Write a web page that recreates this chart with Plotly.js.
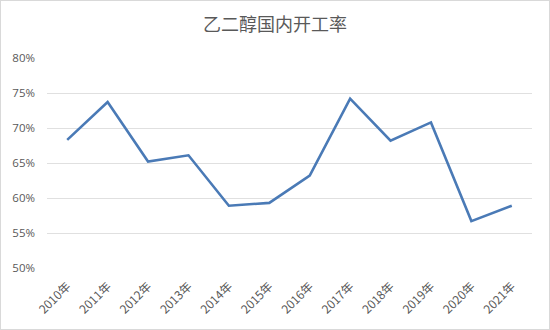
<!DOCTYPE html>
<html>
<head>
<meta charset="utf-8">
<script src="https://cdn.plot.ly/plotly-3.0.1.min.js"></script>
<style>
html,body{margin:0;padding:0;background:#fff;}
#wrap{position:relative;width:550px;height:330px;}
#chart{width:550px;height:330px;}
#border{position:absolute;left:0;top:0;width:548px;height:328px;border:1px solid #d9d9d9;pointer-events:none;}
</style>
</head>
<body>
<div id="wrap"><div id="chart"></div><div id="border"></div></div>
<script>
var years = ["2010年","2011年","2012年","2013年","2014年","2015年","2016年","2017年","2018年","2019年","2020年","2021年"];
var rates = [0.683, 0.737, 0.652, 0.661, 0.589, 0.593, 0.632, 0.742, 0.682, 0.708, 0.567, 0.589];
var yTicks = [0.5, 0.55, 0.6, 0.65, 0.7, 0.75, 0.8];

var trace = {
  x: years, y: rates, type: 'scatter', mode: 'lines',
  line: {color: '#4a7ab6', width: 2.6}, hoverinfo: 'none'
};
var layout = {
  width: 550, height: 330,
  margin: {l: 47, r: 18, t: 58, b: 62},
  paper_bgcolor: '#fff', plot_bgcolor: '#fff',
  showlegend: false,
  title: {text: '乙二醇国内开工率', x: 0.5, xanchor: 'center', y: 0.925, yanchor: 'middle',
    font: {family: '"Noto Sans CJK SC", sans-serif', size: 18, color: '#595959'}},
  xaxis: {type: 'category', range: [-0.5, 11.5], tickangle: -45, showgrid: false, zeroline: false, showline: false,
    ticks: '', ticklabelstandoff: 8, automargin: false,
    tickfont: {family: '"Noto Sans CJK SC", sans-serif', size: 12, color: '#595959'}},
  yaxis: {range: [0.5, 0.8], tickvals: yTicks, tickformat: '.0%', showgrid: true, gridcolor: '#e0e0e0',
    gridwidth: 1, zeroline: false, showline: false, ticks: '', ticklabelstandoff: 11, automargin: false,
    tickfont: {family: '"Open Sans", sans-serif', size: 11.5, color: '#595959'}}
};
Plotly.newPlot('chart', [trace], layout, {staticPlot: true});
</script>
</body>
</html>
